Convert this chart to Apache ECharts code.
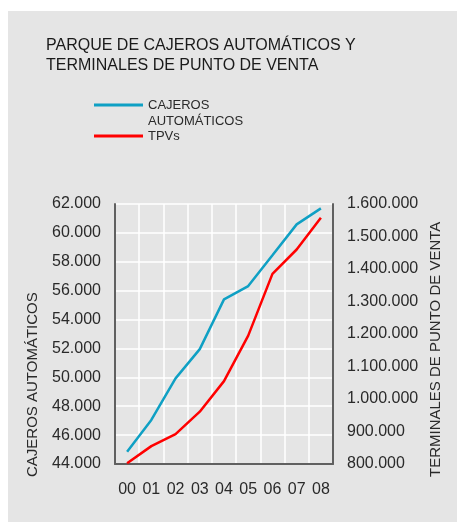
<!DOCTYPE html>
<html>
<head>
<meta charset="utf-8">
<script src="https://cdn.jsdelivr.net/npm/echarts@6/dist/echarts.min.js"></script>
<style>
html,body{margin:0;padding:0;background:#fff;}
#chart{width:458px;height:532px;}
</style>
</head>
<body>
<div id="chart"></div>
<script>
var categories = ['00','01','02','03','04','05','06','07','08'];
var cajeros = [44850, 47050, 49930, 51950, 55400, 56320, 58450, 60590, 61700];
var tpvs = [802000, 855000, 892000, 961000, 1055000, 1195000, 1385000, 1460000, 1558000];
var titleText = 'PARQUE DE CAJEROS AUTOMÁTICOS Y\nTERMINALES DE PUNTO DE VENTA';
var seriesNames = ['CAJEROS AUTOMÁTICOS', 'TPVs'];
var legendLabels = ['\nCAJEROS\nAUTOMÁTICOS', 'TPVs'];
var leftAxisName = 'CAJEROS AUTOMÁTICOS';
var rightAxisName = 'TERMINALES DE PUNTO DE VENTA';

var FONT = 'Liberation Sans, Arial, sans-serif';
function fmt(v){ return String(Math.round(v)).replace(/\B(?=(\d{3})+(?!\d))/g, '.'); }

var chart = echarts.init(document.getElementById('chart'), null, {renderer:'canvas'});
chart.setOption({
  backgroundColor: '#ffffff',
  animation: false,
  title: {
    text: titleText, left: 46, top: 36, padding: 0,
    textStyle: {fontFamily: FONT, fontSize: 16, lineHeight: 20, fontWeight: 'normal', color: '#1a1a1a'}
  },
  legend: {
    orient: 'vertical', left: 94, top: 81, padding: 0,
    itemWidth: 49, itemHeight: 3, itemGap: -1, icon: 'rect',
    data: seriesNames,
    formatter: function(n){ return legendLabels[seriesNames.indexOf(n)]; },
    textStyle: {fontFamily: FONT, fontSize: 13, lineHeight: 16, color: '#2a2a2a'}
  },
  graphic: [
    {type: 'rect', z: -10, silent: true, shape: {x: 8, y: 11, width: 449, height: 511}, style: {fill: '#e5e5e5'}},
    {type: 'text', x: 33, y: 477, rotation: Math.PI/2, silent: true,
     style: {text: leftAxisName, fontFamily: FONT, fontSize: 15, fill: '#2a2a2a', align: 'left', verticalAlign: 'middle'}},
    {type: 'text', x: 436, y: 477, rotation: Math.PI/2, silent: true,
     style: {text: rightAxisName, fontFamily: FONT, fontSize: 15, fill: '#2a2a2a', align: 'left', verticalAlign: 'middle'}}
  ],
  grid: {left: 115, right: 125, top: 204, bottom: 68, containLabel: false},
  xAxis: {
    type: 'category', data: categories, boundaryGap: true,
    axisLine: {show: true, lineStyle: {color: '#606060', width: 2}},
    axisTick: {show: false},
    axisLabel: {margin: 18, fontFamily: FONT, fontSize: 16, color: '#2a2a2a', interval: 0},
    splitLine: {show: true, interval: 0, lineStyle: {color: '#ffffff', width: 1.5}}
  },
  yAxis: [
    {
      type: 'value', position: 'left', min: 44000, max: 62000, interval: 2000,
      axisLine: {show: true, lineStyle: {color: '#606060', width: 2}},
      axisTick: {show: false},
      axisLabel: {margin: 14, fontFamily: FONT, fontSize: 16, color: '#2a2a2a', formatter: fmt},
      splitLine: {show: true, lineStyle: {color: '#ffffff', width: 1.5}}
    },
    {
      type: 'value', position: 'right', min: 800000, max: 1600000, interval: 100000,
      axisLine: {show: true, lineStyle: {color: '#606060', width: 2}},
      axisTick: {show: false},
      axisLabel: {margin: 14, fontFamily: FONT, fontSize: 16, color: '#2a2a2a', formatter: fmt},
      splitLine: {show: false}
    }
  ],
  series: [
    {name: seriesNames[0], type: 'line', yAxisIndex: 0, data: cajeros, symbol: 'none',
     itemStyle: {color: '#0fa0c4'}, lineStyle: {color: '#0fa0c4', width: 2.5}},
    {name: seriesNames[1], type: 'line', yAxisIndex: 1, data: tpvs, symbol: 'none',
     itemStyle: {color: '#ff0000'}, lineStyle: {color: '#ff0000', width: 2.5}}
  ]
});
</script>
</body>
</html>
